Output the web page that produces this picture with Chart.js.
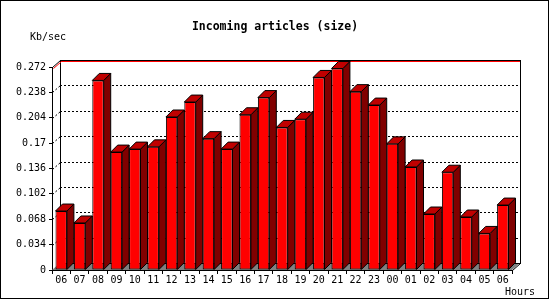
<!DOCTYPE html>
<html>
<head>
<meta charset="utf-8">
<script src="https://cdn.jsdelivr.net/npm/chart.js@4/dist/chart.umd.min.js"></script>
<style>
html,body{margin:0;padding:0;background:#fff;}
#wrap{width:550px;height:300px;}
</style>
</head>
<body>
<div id="wrap"><canvas id="c" width="550" height="300"></canvas></div>
<script>
// ---- data ----
const hours = ['06','07','08','09','10','11','12','13','14','15','16','17','18','19','20','21','22','23','00','01','02','03','04','05','06'];
const kbPerSec = [0.079,0.063,0.254,0.158,0.162,0.165,0.205,0.225,0.176,0.162,0.208,0.231,0.191,0.202,0.258,0.270,0.239,0.221,0.169,0.138,0.075,0.131,0.071,0.049,0.087];
const yTickValues = [0,0.034,0.068,0.102,0.136,0.17,0.204,0.238,0.272];
const yTickLabels = ['0','0.034','0.068','0.102','0.136','0.17','0.204','0.238','0.272'];
const titleText = 'Incoming articles (size)';
const yUnitText = 'Kb/sec';
const xUnitText = 'Hours';

// ---- style ----
const MONO = '"DejaVu Sans Mono", "Liberation Mono", monospace';
const DX = 7, DY = 7;      // bar depth
const FDX = 8;             // frame depth (x)

function poly(ctx, pts, fill, stroke) {
  ctx.beginPath();
  ctx.moveTo(pts[0][0], pts[0][1]);
  for (let i = 1; i < pts.length; i++) ctx.lineTo(pts[i][0], pts[i][1]);
  ctx.closePath();
  if (fill) { ctx.fillStyle = fill; ctx.fill(); }
  if (stroke) { ctx.strokeStyle = stroke; ctx.lineWidth = 1; ctx.stroke(); }
}
function line(ctx, x1, y1, x2, y2, color, dash) {
  ctx.save();
  ctx.beginPath();
  ctx.setLineDash(dash || []);
  ctx.strokeStyle = color; ctx.lineWidth = 1;
  ctx.moveTo(x1, y1); ctx.lineTo(x2, y2);
  ctx.stroke();
  ctx.restore();
}

const box3d = {
  id: 'box3d',
  beforeDraw(chart) {
    const ctx = chart.ctx;
    ctx.save();
    ctx.fillStyle = '#fff';
    ctx.fillRect(0, 0, chart.width, chart.height);
    ctx.restore();
  },
  beforeDatasetsDraw(chart) {
    const ctx = chart.ctx, a = chart.chartArea, ys = chart.scales.y;
    const L = Math.round(a.left), R = Math.round(a.right), T = Math.round(a.top), B = Math.round(a.bottom);
    ctx.save();
    // floor
    poly(ctx, [[L, B], [R, B], [R + FDX, B - DY], [L + FDX, B - DY]], '#808080', null);
    // back gridlines
    yTickValues.forEach((v, i) => {
      if (i === 0 || i === yTickValues.length - 1) return;
      const yy = Math.round(ys.getPixelForValue(v));
      line(ctx, L + FDX, yy - DY + 0.5, R + FDX, yy - DY + 0.5, '#000', [2, 2]);
      line(ctx, L + 0.5, yy + 0.5, L + FDX + 0.5, yy - DY + 0.5, '#000', [2, 2]);
    });
    // frame
    line(ctx, L + FDX + 0.5, T - DY, L + FDX + 0.5, B - DY + 1, '#000');
    line(ctx, L + FDX, T - DY + 0.5, R + FDX + 1, T - DY + 0.5, '#000');
    line(ctx, R + FDX + 0.5, T - DY, R + FDX + 0.5, B - DY + 1, '#000');
    line(ctx, L + 0.5, T + 0.5, L + FDX + 0.5, T - DY + 0.5, '#000');
    line(ctx, R + 0.5, B + 0.5, R + FDX + 0.5, B - DY + 0.5, '#000');
    line(ctx, L + FDX, B - DY + 0.5, R + FDX, B - DY + 0.5, '#000');
    // red max line
    line(ctx, L + FDX + 1, T - DY + 1.5, R + FDX, T - DY + 1.5, '#ff0000');
    line(ctx, L + 1.5, T + 1.5, L + FDX + 1.5, T - DY + 1.5, '#ff0000');
    // bar sides and tops
    const meta = chart.getDatasetMeta(0);
    meta.data.forEach(el => {
      const p = el.getProps(['x', 'y', 'base', 'width'], true);
      const left = p.x - p.width / 2, right = p.x + p.width / 2;
      const top = p.y, base = p.base;
      poly(ctx, [[right, top], [right + DX, top - DY], [right + DX, base - DY], [right, base]], '#800000', '#000');
      poly(ctx, [[left, top], [left + DX, top - DY], [right + DX, top - DY], [right, top]], '#c00000', '#000');
    });
    ctx.restore();
  },
  afterDraw(chart) {
    const ctx = chart.ctx;
    ctx.save();
    ctx.fillStyle = '#000';
    ctx.font = '10px ' + MONO;
    ctx.textBaseline = 'middle';
    ctx.textAlign = 'left';
    ctx.fillText(yUnitText, 30, 37);
    ctx.fillText(xUnitText, 505, 292);
    ctx.strokeStyle = '#000';
    ctx.lineWidth = 1;
    ctx.strokeRect(0.5, 0.5, 548, 298);
    ctx.restore();
  }
};

new Chart(document.getElementById('c'), {
  type: 'bar',
  data: {
    labels: hours,
    datasets: [{
      label: yUnitText,
      data: kbPerSec,
      backgroundColor: '#ff0000',
      borderColor: '#000000',
      borderWidth: 1,
      borderSkipped: false,
      barPercentage: 0.62,
      categoryPercentage: 1.0
    }]
  },
  options: {
    responsive: false,
    animation: false,
    devicePixelRatio: 1,
    layout: { padding: { left: 0, right: 0, top: 0, bottom: 0 } },
    plugins: {
      legend: { display: false },
      tooltip: { enabled: false },
      title: {
        display: true,
        text: titleText,
        color: '#000',
        font: { family: MONO, size: 11.5, weight: 'bold' },
        padding: { top: 20, bottom: 33.2 }
      }
    },
    scales: {
      x: {
        grid: { display: true, drawOnChartArea: false, drawTicks: true, tickLength: 4, color: '#000', offset: true },
        border: { display: true, color: '#000' },
        ticks: { color: '#000', font: { family: MONO, size: 10 }, padding: 0, maxRotation: 0, autoSkip: false },
        afterFit(s) { s.height = 30; }
      },
      y: {
        min: 0,
        max: yTickValues[yTickValues.length - 1],
        afterBuildTicks(s) { s.ticks = yTickValues.map(v => ({ value: v })); },
        grid: { display: true, drawOnChartArea: false, drawTicks: true, tickLength: 3, color: '#000' },
        border: { display: true, color: '#000' },
        ticks: { color: '#000', font: { family: MONO, size: 10 }, padding: 3, callback: (v, i) => yTickLabels[i] },
        afterFit(s) { s.width = 52; }
      },
      yRight: {
        position: 'right',
        display: true,
        grid: { display: false },
        border: { display: false },
        ticks: { display: false },
        afterFit(s) { s.width = 38; }
      }
    }
  },
  plugins: [box3d]
});
</script>
</body>
</html>
